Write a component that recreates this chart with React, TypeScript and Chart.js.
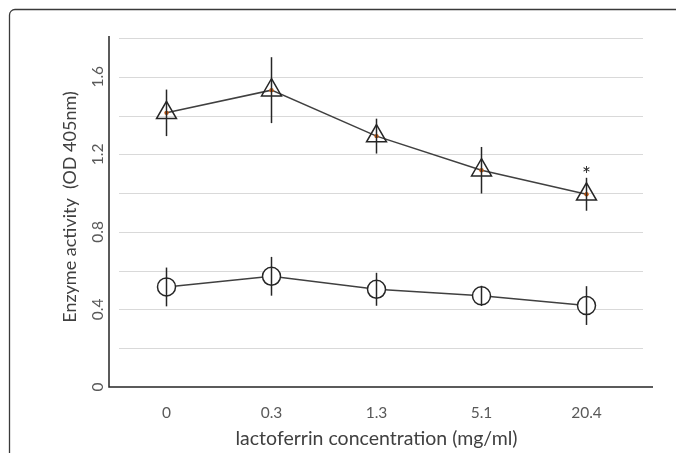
import React, { useEffect, useRef } from "react";
import { Chart, registerables } from "chart.js";

Chart.register(...registerables);

const categories = ["0", "0.3", "1.3", "5.1", "20.4"];
const triangleValues = [1.414, 1.531, 1.294, 1.118, 0.994];
const triangleErrors = [0.12, 0.17, 0.09, 0.12, 0.085];
const circleValues = [0.516, 0.571, 0.504, 0.47, 0.42];
const circleErrors = [0.1, 0.1, 0.085, 0.052, 0.1];
const significant = [false, false, false, false, true];
const yTickLabels = [0, 0.4, 0.8, 1.2, 1.6];
const yGridValues = [0.2, 0.4, 0.6, 0.8, 1.0, 1.2, 1.4, 1.6, 1.8];
const yMin = 0;
const yMax = 1.8;

const FONT = "Lato, 'Open Sans', sans-serif";

const decorPlugin = {
  id: "decor",
  beforeDatasetsDraw(chart: any) {
    const { ctx, scales } = chart;
    const y = scales.y;
    const x = scales.x;
    ctx.save();
    // outer frame
    ctx.strokeStyle = "#3a3a3a";
    ctx.lineWidth = 1.3;
    ctx.beginPath();
    ctx.moveTo(9.5, 453);
    ctx.lineTo(9.5, 15);
    ctx.arcTo(9.5, 9.5, 15, 9.5, 5.5);
    ctx.lineTo(676, 9.5);
    ctx.stroke();

    // grid lines
    ctx.strokeStyle = "#d9d9d9";
    ctx.lineWidth = 1.2;
    const gx0 = x.left + 5;
    const gx1 = x.right + 4;
    yGridValues.forEach((v) => {
      const py = Math.round(y.getPixelForValue(v)) + 0.5;
      ctx.beginPath();
      ctx.moveTo(gx0, py);
      ctx.lineTo(gx1, py);
      ctx.stroke();
    });

    // axes lines
    const axisX = x.left - 5;
    const baseY = y.getPixelForValue(yMin);
    ctx.strokeStyle = "#262626";
    ctx.lineWidth = 1.5;
    ctx.beginPath();
    ctx.moveTo(axisX, y.getPixelForValue(yMax) - 2);
    ctx.lineTo(axisX, baseY);
    ctx.lineTo(x.right + 14, baseY);
    ctx.stroke();

    // y tick labels (rotated)
    ctx.fillStyle = "#595959";
    ctx.font = `15.5px ${FONT}`;
    ctx.textAlign = "center";
    ctx.textBaseline = "middle";
    yTickLabels.forEach((v) => {
      const py = y.getPixelForValue(v);
      ctx.save();
      ctx.translate(axisX - 11, py);
      ctx.rotate(-Math.PI / 2);
      ctx.fillText(String(v), 0, 0);
      ctx.restore();
    });

    // y title
    ctx.fillStyle = "#404040";
    ctx.font = `18px ${FONT}`;
    ctx.save();
    ctx.translate(70, 207);
    ctx.rotate(-Math.PI / 2);
    ctx.fillText("Enzyme activity  (OD 405nm)", 0, 0);
    ctx.restore();
    ctx.restore();
  },
  afterDatasetsDraw(chart: any) {
    const { ctx, scales } = chart;
    const y = scales.y;
    const x = scales.x;
    ctx.save();
    ctx.strokeStyle = "#262626";
    ctx.lineWidth = 1.5;
    const drawBars = (vals: number[], errs: number[]) => {
      vals.forEach((v, i) => {
        const px = x.getPixelForValue(i);
        ctx.beginPath();
        ctx.moveTo(px, y.getPixelForValue(v + errs[i]));
        ctx.lineTo(px, y.getPixelForValue(v - errs[i]));
        ctx.stroke();
      });
    };
    drawBars(triangleValues, triangleErrors);
    drawBars(circleValues, circleErrors);

    ctx.fillStyle = "#262626";
    ctx.font = `21px ${FONT}`;
    ctx.textAlign = "center";
    ctx.textBaseline = "middle";
    significant.forEach((s, i) => {
      if (!s) return;
      const px = x.getPixelForValue(i);
      const py = y.getPixelForValue(triangleValues[i] + triangleErrors[i]) - 3;
      ctx.fillText("*", px, py);
    });
    ctx.restore();
  },
};

export default function App() {
  const ref = useRef<HTMLCanvasElement | null>(null);
  useEffect(() => {
    if (!ref.current) return;
    const chart = new Chart(ref.current, {
      type: "line",
      data: {
        labels: categories,
        datasets: [
          {
            label: "triangle centre",
            data: triangleValues,
            showLine: false,
            pointStyle: "circle",
            pointRadius: 2.2,
            pointBorderWidth: 0,
            pointBackgroundColor: "#c55a11",
            borderColor: "#c55a11",
          },
          {
            label: "triangle",
            data: triangleValues,
            borderColor: "#404040",
            borderWidth: 1.5,
            pointStyle: "triangle",
            pointRadius: 11.5,
            pointBorderColor: "#262626",
            pointBorderWidth: 1.5,
            pointBackgroundColor: "rgba(255,255,255,0)",
            tension: 0,
          },
          {
            label: "circle",
            data: circleValues,
            borderColor: "#404040",
            borderWidth: 1.5,
            pointStyle: "circle",
            pointRadius: 9,
            pointBorderColor: "#262626",
            pointBorderWidth: 1.5,
            pointBackgroundColor: "#ffffff",
            tension: 0,
          },
        ],
      },
      options: {
        animation: false,
        responsive: false,
        maintainAspectRatio: false,
        layout: { padding: { left: 114, right: 37, top: 38, bottom: 0 } },
        plugins: {
          legend: { display: false },
          tooltip: { enabled: false },
        },
        scales: {
          x: {
            type: "category",
            offset: true,
            grid: { display: false },
            border: { display: false },
            ticks: {
              color: "#595959",
              font: { family: FONT, size: 15.5 },
              padding: 9,
              maxRotation: 0,
            },
            title: {
              display: true,
              text: "lactoferrin concentration (mg/ml)",
              color: "#404040",
              font: { family: FONT, size: 19.5 },
              padding: { top: 0, bottom: 3 },
            },
            afterFit: (scale: any) => {
              scale.height = 66;
            },
          },
          y: {
            display: false,
            min: yMin,
            max: yMax,
          },
        },
      },
      plugins: [decorPlugin],
    });
    return () => chart.destroy();
  }, []);
  return (
    <div style={{ position: "fixed", left: 0, top: 0, width: 676, height: 453, background: "#fff" }}>
      <canvas ref={ref} width={676} height={453} style={{ display: "block" }} />
    </div>
  );
}
